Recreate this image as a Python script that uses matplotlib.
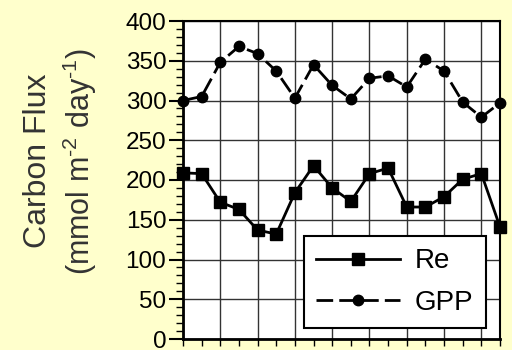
import matplotlib
matplotlib.use("Agg")
import matplotlib.pyplot as plt
from matplotlib.ticker import MultipleLocator, FixedLocator

plt.rcParams['font.family'] = ['Liberation Sans', 'DejaVu Sans']
plt.rcParams['mathtext.fontset'] = 'custom'
plt.rcParams['mathtext.rm'] = 'Liberation Sans'
plt.rcParams['mathtext.it'] = 'Liberation Sans'

sample = list(range(18))
re_vals = [209, 208, 172, 163, 137, 132, 184, 218, 190, 173, 208, 215, 166, 166, 179, 201, 208, 141]
gpp_vals = [300, 305, 348, 368, 359, 337, 303, 345, 319, 302, 328, 331, 317, 352, 337, 298, 279, 297]
yticks = [0, 50, 100, 150, 200, 250, 300, 350, 400]

bg = '#FFFFCC'
fig = plt.figure(figsize=(5.12, 3.5), dpi=100, facecolor=bg)
ax = fig.add_axes([183/512, 1-339/350, 317/512, 318/350])
ax.set_facecolor('white')

ax.set_xlim(0, 17)
ax.set_ylim(0, 400)

ax.plot(sample, re_vals, '-', color='black', lw=2, marker='s', ms=8.5, label='Re', zorder=3, clip_on=False)
ax.plot(sample, gpp_vals, color='black', lw=2, dashes=(6, 2.2), marker='o', ms=7.5, label='GPP', zorder=3, clip_on=False)

ax.xaxis.set_major_locator(FixedLocator(list(range(0, 17, 2))))
ax.xaxis.set_minor_locator(FixedLocator(sample))
ax.set_xticklabels([])
ax.yaxis.set_major_locator(FixedLocator(yticks))
ax.yaxis.set_minor_locator(MultipleLocator(10))
ax.set_yticklabels([str(v) for v in yticks])

ax.grid(True, which='major', color='#333333', lw=1)
ax.set_axisbelow(True)

ax.tick_params(axis='y', which='major', direction='out', length=10, width=1.5, labelsize=17.5, pad=2)
ax.tick_params(axis='y', which='minor', direction='out', length=5, width=1)
ax.tick_params(axis='x', which='major', direction='out', length=5, width=1)
ax.tick_params(axis='x', which='minor', direction='out', length=5, width=1)

for s in ['left', 'bottom']:
    ax.spines[s].set_linewidth(2)
for s in ['top', 'right']:
    ax.spines[s].set_linewidth(1.5)

leg = ax.legend(loc='lower right', bbox_to_anchor=(486/512, 1-328/350), bbox_transform=fig.transFigure,
                fontsize=20, frameon=True, fancybox=False, shadow=False, handlelength=3.0,
                borderpad=0.45, labelspacing=0.55, handletextpad=0.55, borderaxespad=0)
leg.get_frame().set_edgecolor('black')
leg.get_frame().set_linewidth(1.5)
leg.get_frame().set_facecolor('white')
leg.get_frame().set_alpha(1)

fig.text(38/512, 1-161/350, 'Carbon Flux', rotation=90, ha='center', va='center', fontsize=23, color='#333333')
fig.text(80/512, 1-162/350, '(mmol m$^{\\text{-2}}$ day$^{\\text{-1}}$)', rotation=90, ha='center', va='center',
         fontsize=22, color='#333333')

fig.savefig('out.png', dpi=100, facecolor=bg)
